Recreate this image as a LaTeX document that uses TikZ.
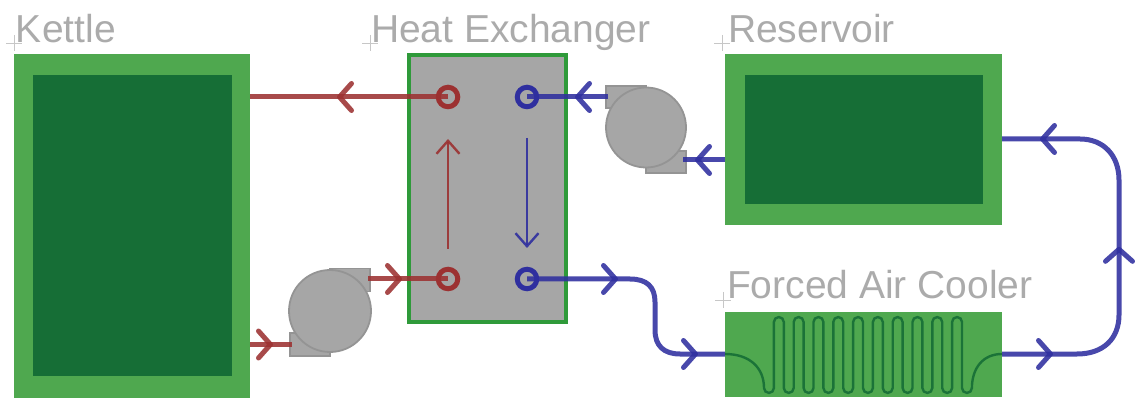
\documentclass[tikz,border=0pt]{standalone}
\usepackage{fontspec}
\setmainfont{Liberation Sans}
\usetikzlibrary{arrows.meta,decorations.markings,positioning}
\definecolor{lightgreen}{HTML}{4FA84F}
\definecolor{darkgreen}{HTML}{166E36}
\definecolor{hxgreen}{HTML}{2F9A3A}
\definecolor{bodygray}{HTML}{A6A6A6}
\definecolor{edgegray}{HTML}{949494}
\definecolor{labelgray}{HTML}{ABABAB}
\definecolor{hot}{HTML}{9C3131}
\definecolor{cold}{HTML}{2F2F9F}
\tikzset{
  outerbox/.style={fill=lightgreen,draw=none,inner sep=0pt,outer sep=0pt},
  innerbox/.style={fill=darkgreen,draw=none,inner sep=0pt,outer sep=0pt},
  hxbox/.style={fill=bodygray,draw=hxgreen,line width=4pt,inner sep=0pt,outer sep=0pt,minimum width=157pt,minimum height=267pt},
  title/.style={text=labelgray,font=\fontsize{39}{39}\selectfont,anchor=base west,inner sep=0pt,outer sep=0pt},
  tick/.style={draw=black!22,line width=0.6pt},
  pumpbody/.style={circle,fill=bodygray,draw=edgegray,line width=1.8pt,inner sep=0pt,outer sep=0pt},
  pumpflange/.style={fill=bodygray,draw=edgegray,line width=1.4pt,inner sep=0pt,outer sep=0pt},
  port/.style={circle,draw=#1,line width=5pt,fill=none,inner sep=0pt,minimum size=19.5pt,outer sep=0pt},
  pipe/.style={draw=#1,opacity=0.88,line width=5pt},
  thinflow/.style={draw=#1,opacity=0.9,line width=2.4pt,-{Straight Barb[length=13pt,width=23pt,line width=2.4pt]}},
  barb/.style={},
  chev/.style={postaction={decorate},decoration={markings,mark=at position #1 with {\arrow{Straight Barb[length=12pt,width=27pt,line width=5pt,round]}}}},
  chevtwo/.style n args={2}{postaction={decorate},decoration={markings,
     mark=at position #1 with {\arrow{Straight Barb[length=12pt,width=27pt,line width=5pt,round]}},
     mark=at position #2 with {\arrow{Straight Barb[length=12pt,width=27pt,line width=5pt,round]}}}},
  chevthree/.style n args={3}{postaction={decorate},decoration={markings,
     mark=at position #1 with {\arrow{Straight Barb[length=12pt,width=27pt,line width=5pt,round]}},
     mark=at position #2 with {\arrow{Straight Barb[length=12pt,width=27pt,line width=5pt,round]}},
     mark=at position #3 with {\arrow{Straight Barb[length=12pt,width=27pt,line width=5pt,round]}}}},
  coil/.style={draw=darkgreen,line width=2.4pt,opacity=0.9},
}
\begin{document}
\begin{tikzpicture}[x=1pt,y=-1pt]
\useasboundingbox (0,0) rectangle (1135,403);
% tanks
\node[outerbox,minimum width=236pt,minimum height=344pt] (kettle) at (132,226) {};
\node[innerbox,minimum width=199pt,minimum height=301pt] (kettlecore) at (132.5,225.5) {};
\node[outerbox,minimum width=277pt,minimum height=171pt] (reservoir) at (863.5,139.5) {};
\node[innerbox,minimum width=238pt,minimum height=129pt] (reservoircore) at (864,139.5) {};
\node[outerbox,minimum width=277pt,minimum height=85pt] (cooler) at (863.5,354.5) {};
% heat exchanger
\node[hxbox] (hx) at (487.5,188.5) {};
% titles
\node[title] (tk) at (16,43) {Kettle};
\node[title] (th) at (371,43) {Heat Exchanger};
\node[title] (tr) at (728,43) {Reservoir};
\node[title] (tc) at (727,299) {Forced Air Cooler};
\foreach \x/\y in {14/43,370/43,722/43,723/300}
  \draw[tick] (\x-8,\y) -- (\x+8,\y) (\x,\y-8) -- (\x,\y+8);
% pumps
\node[pumpflange,minimum width=40pt,minimum height=22pt] (bf1) at (626,97) {};
\node[pumpflange,minimum width=40pt,minimum height=22pt] (bf2) at (666,162) {};
\node[pumpbody,minimum size=80pt] (coldpump) at (646,127.5) {};
\node[pumpflange,minimum width=40pt,minimum height=23pt] (rf1) at (350,280) {};
\node[pumpflange,minimum width=40pt,minimum height=23pt] (rf2) at (310,344.5) {};
\node[pumpbody,minimum size=82pt] (hotpump) at (330,311) {};
% ports
\node[port=hot] (ph1) at (448,97) {};
\node[port=hot] (ph2) at (448,279) {};
\node[port=cold] (pc1) at (527,97) {};
\node[port=cold] (pc2) at (527,279) {};
% internal flow arrows
\coordinate (h2a) at (448,249);
\coordinate (h2b) at (448,139);
\coordinate (c2a) at (527,138);
\coordinate (c2b) at (527,248);
\draw[thinflow=hot] (h2a) -- (h2b);
\draw[thinflow=cold] (c2a) -- (c2b);
% hot loop
\draw[pipe=hot,chev=111pt] (ph1.center) -- (kettle.east |- ph1.center);
\draw[pipe=hot,chev=23pt] (kettle.east |- rf2.center) -- ([xshift=2pt]rf2.west |- rf2.center);
\draw[pipe=hot,chev=34pt] ([xshift=-2pt]rf1.east |- ph2.center) -- (ph2.center);
% cold loop
\coordinate (rs) at (725,160);
\draw[pipe=cold,chev=30pt] (reservoir.west |- rs) -- ([xshift=-3pt]bf2.east |- rs);
\draw[pipe=cold,chev=33pt] ([xshift=2pt]bf1.west |- pc1.center) -- (pc1.center);
\coordinate (w2) at (655,354);
\draw[pipe=cold,chevtwo={91pt}{-27pt}] (pc2.center) -- (630,279) .. controls (647,279) and (655,287) .. (655,302) -- (655,330) .. controls (655,346) and (664,354) .. (680,354) -- (cooler.west |- w2);
\coordinate (r1) at (1119,354);
\coordinate (r2) at (1119,139);
\draw[pipe=cold,chevthree={51pt}{208pt}{-38pt}] (cooler.east |- r1) -- (1077,354) .. controls (1104,354) and (1119,338) .. (1119,315) -- (1119,180) .. controls (1119,156) and (1104,139) .. (1080,139) -- (reservoir.east |- r2);
% cooler coil
\draw[coil] (cooler.west |- w2) .. controls (750,354) and (764,368) .. (764,388)
  arc[start angle=180,end angle=360,radius=4.95pt]
  foreach \i in {1,...,10} { -- ++(0,-66) arc[start angle=180,end angle=0,radius=4.95pt] -- ++(0,66) arc[start angle=180,end angle=360,radius=4.95pt] }
  .. controls (972,368) and (983,354) .. (cooler.east |- w2);
\end{tikzpicture}
\end{document}
